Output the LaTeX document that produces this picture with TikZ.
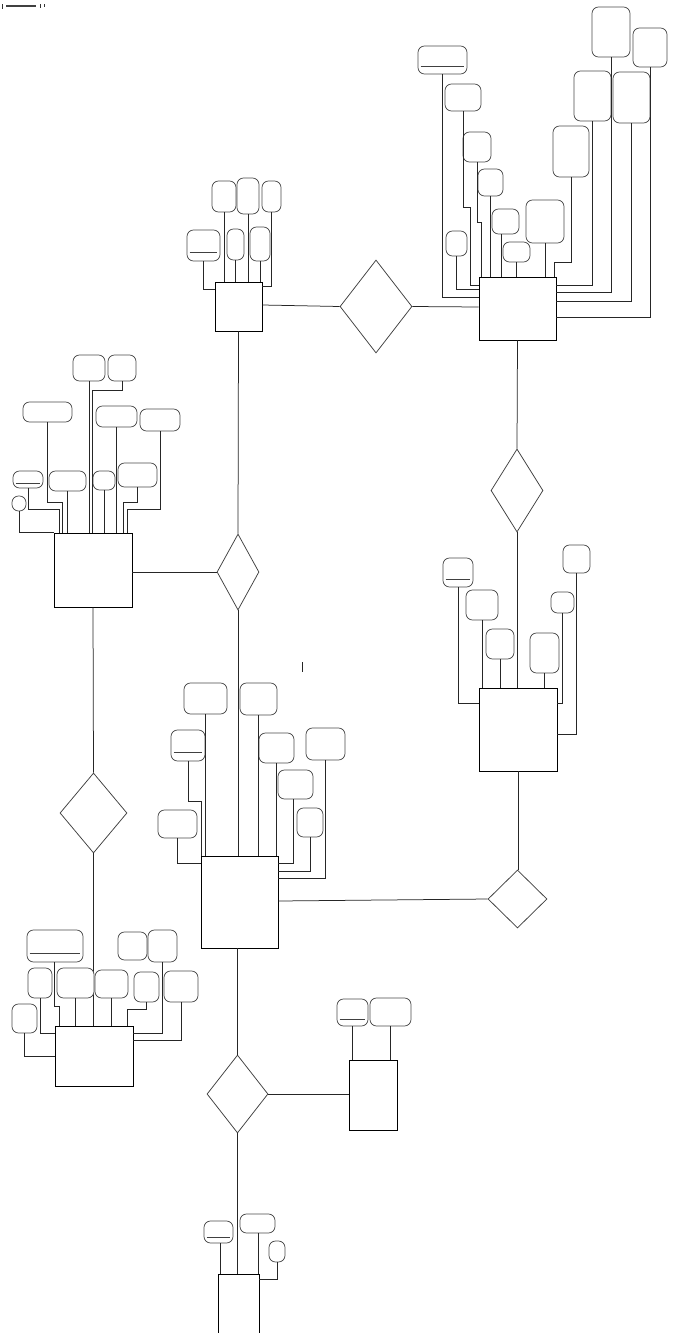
\documentclass[tikz,border=0pt]{standalone}
\usetikzlibrary{shapes.geometric,calc}
\tikzset{
  ln/.style={draw=black!85, line width=0.75pt},
  attr/.style={draw=black!70, rounded corners=6.5pt, line width=0.75pt, fill=white, inner sep=0pt},
  ent/.style={draw=black, line width=0.85pt, inner sep=0pt},
  rel/.style={diamond, draw=black!75, line width=0.75pt, inner sep=0pt},
  keyl/.style={draw=black!75, line width=0.75pt}
}
\newcommand{\attrnode}[5]{\node[attr, minimum width={(#4)-(#2)}, minimum height={(#5)-(#3)}] (#1) at ({((#2)+(#4))/2},{((#3)+(#5))/2}) {};}
\newcommand{\entnode}[5]{\node[ent, minimum width={(#4)-(#2)}, minimum height={(#5)-(#3)}] (#1) at ({((#2)+(#4))/2},{((#3)+(#5))/2}) {};}
\newcommand{\relnode}[5]{\node[rel, minimum width={(#4)-(#2)}, minimum height={(#5)-(#3)}] (#1) at ({((#2)+(#4))/2},{((#3)+(#5))/2}) {};}
\newcommand{\keyline}[1]{\draw[keyl] ($(#1.south west)!0.27!(#1.north west)+(3,0)$) -- ($(#1.south east)!0.27!(#1.north east)+(-3,0)$);}
\begin{document}
\begin{tikzpicture}[x=1pt,y=-1pt]
\useasboundingbox (0,0) rectangle (679,1333);
\fill[white] (0,0) rectangle (679,1333);

% tiny marks
\draw[line width=2.4pt, black!75] (6,6) -- (36,6);
\draw[line width=1pt, black!80] (2,4) -- (2,9) (40,4) -- (40,8) (44,4) -- (44,7);
\coordinate (m1) at (302,662);
\coordinate (m2) at (302,672);
\draw[ln] (m1) -- (m2);

% entities
\entnode{E1}{479}{277}{556}{340}
\entnode{E2}{215}{282}{262}{331}
\entnode{E3}{54}{533}{132}{607}
\entnode{E4}{201}{856}{278}{948}
\entnode{E5}{479}{688}{557}{771}
\entnode{E6}{55}{1026}{133}{1086}
\entnode{E7}{349}{1060}{397}{1130}
\entnode{E8}{218}{1274}{259}{1340}

% relationships
\relnode{D1}{340}{260}{412}{353}
\relnode{D2}{217}{534}{259}{610}
\relnode{D3}{60}{773}{127}{853}
\relnode{D4}{488}{870}{547}{928}
\relnode{D5}{207}{1055}{268}{1133}
\relnode{D6}{491}{449}{543}{532}

% relationship links
\draw[ln] (E2.east |- 0,305) -- (D1.west);
\draw[ln] (D1.east) -- (E1.west |- 0,307);
\draw[ln] (E2.south) -- (D2.north);
\draw[ln] (D2.west) -- (E3.east |- D2.west);
\draw[ln] (D2.south) -- (D2.south |- E4.north);
\draw[ln] (E3.south) -- (D3.north);
\draw[ln] (D3.south) -- (D3.south |- E6.north);
\draw[ln] (E1.south) -- (D6.north);
\draw[ln] (D6.south) -- (D6.south |- E5.north);
\draw[ln] (E5.south) -- (E5.south |- D4.north);
\draw[ln] (E4.east |- 0,901) -- (D4.west);
\draw[ln] (D5.north) -- (D5.north |- E4.south);
\draw[ln] (D5.east) -- (E7.west |- D5.east);
\draw[ln] (D5.south) -- (D5.south |- E8.north);

% ---- E1 attributes
\attrnode{A1}{418}{46}{467}{74} \keyline{A1}
\attrnode{A2}{445}{84}{481}{111}
\attrnode{A3}{463}{132}{491}{162}
\attrnode{A4}{478}{169}{503}{196}
\attrnode{A5}{446}{231}{467}{256}
\attrnode{A6}{492}{209}{519}{234}
\attrnode{A7}{503}{242}{530}{262}
\attrnode{A8}{526}{200}{564}{243}
\attrnode{A9}{553}{126}{589}{177}
\attrnode{A10}{574}{71}{611}{121}
\attrnode{A11}{592}{7}{630}{57}
\attrnode{A12}{613}{72}{650}{123}
\attrnode{A13}{633}{28}{667}{67}
\draw[ln] (A1.south) |- (E1.west |- 0,297);
\draw[ln] (A2.south) -- (463,207) -- (470,207) -- (470,285) -- (E1.west |- 0,285);
\draw[ln] (A3.south) -- (477,222) -- (481,222) -- (481,277);
\draw[ln] (A4.south) -- (A4.south |- E1.north);
\draw[ln] (A5.south) |- (E1.west |- 0,289);
\draw[ln] (501,0 |- A6.south) -- (501,0 |- E1.north);
\draw[ln] (A7.south) -- (A7.south |- E1.north);
\draw[ln] (A8.south) -- (A8.south |- E1.north);
\draw[ln] (A9.south) -- (571,262) -- (554,262) -- (554,277);
\draw[ln] (A10.south) |- (E1.east |- 0,285);
\draw[ln] (A11.south) |- (E1.east |- 0,292);
\draw[ln] (A12.south) |- (E1.east |- 0,301);
\draw[ln] (A13.south) |- (E1.east |- 0,317);

% ---- E2 attributes
\attrnode{B1}{187}{230}{220}{261} \keyline{B1}
\attrnode{B2}{212}{181}{236}{212}
\attrnode{B3}{237}{178}{259}{214}
\attrnode{B4}{262}{181}{281}{212}
\attrnode{B5}{227}{229}{244}{260}
\attrnode{B6}{250}{227}{270}{261}
\draw[ln] (B1.south) |- (E2.west |- 0,289);
\draw[ln] (B2.south) -- (B2.south |- E2.north);
\draw[ln] (B3.south) -- (B3.south |- E2.north);
\draw[ln] (B4.south) |- (E2.east |- 0,286);
\draw[ln] (B5.south) -- (B5.south |- E2.north);
\draw[ln] (B6.south) -- (B6.south |- E2.north);

% ---- E3 attributes
\attrnode{C1}{73}{355}{105}{381}
\attrnode{C2}{108}{355}{136}{381}
\attrnode{C3}{23}{402}{72}{422}
\attrnode{C4}{96}{406}{137}{427}
\attrnode{C5}{140}{409}{180}{431}
\attrnode{C6}{13}{471}{43}{488} \keyline{C6}
\attrnode{C7}{49}{471}{86}{491}
\attrnode{C8}{93}{471}{115}{490}
\attrnode{C9}{118}{463}{157}{487}
\attrnode{C10}{12}{496}{26}{511}
\draw[ln] (C1.south) -- (C1.south |- E3.north);
\draw[ln] (C2.south) -- (122,390) -- (92,390) -- (92,533);
\draw[ln] (C3.south) -- (47.5,502) -- (62,502) -- (62,533);
\draw[ln] (C4.south) -- (C4.south |- E3.north);
\draw[ln] (C5.south) -- (160,509) -- (127,509) -- (127,533);
\draw[ln] (C6.south) -- (28,509) -- (59,509) -- (59,533);
\draw[ln] (C7.south) -- (C7.south |- E3.north);
\draw[ln] (C8.south) -- (C8.south |- E3.north);
\draw[ln] (C9.south) -- (137.5,502) -- (123,502) -- (123,533);
\draw[ln] (C10.south) |- (E3.north west);

% ---- E4 attributes
\attrnode{F1}{184}{683}{227}{714}
\attrnode{F2}{240}{683}{277}{715}
\attrnode{F3}{171}{730}{205}{761} \keyline{F3}
\attrnode{F4}{259}{733}{294}{763}
\attrnode{F5}{306}{728}{345}{760}
\attrnode{F6}{278}{770}{313}{799}
\attrnode{F7}{297}{808}{323}{837}
\attrnode{F8}{158}{810}{197}{838}
\draw[ln] (F1.south) -- (F1.south |- E4.north);
\draw[ln] (F2.south) -- (F2.south |- E4.north);
\draw[ln] (F3.south) -- (188,801) -- (201,801) -- (201,856);
\draw[ln] (F4.south) -- (F4.south |- E4.north);
\draw[ln] (F5.south) |- (E4.east |- 0,878);
\draw[ln] (293,0 |- F6.south) |- (E4.east |- 0,863);
\draw[ln] (F7.south) |- (E4.east |- 0,871);
\draw[ln] (F8.south) |- (E4.west |- 0,863);

% ---- E5 attributes
\attrnode{G1}{443}{558}{473}{587} \keyline{G1}
\attrnode{G2}{466}{590}{498}{620}
\attrnode{G3}{486}{629}{514}{659}
\attrnode{G4}{530}{633}{559}{673}
\attrnode{G5}{551}{592}{574}{613}
\attrnode{G6}{563}{545}{590}{573}
\draw[ln] (G1.south) |- (E5.west |- 0,703);
\draw[ln] (G2.south) -- (G2.south |- E5.north);
\draw[ln] (G3.south) -- (G3.south |- E5.north);
\draw[ln] (G4.south) -- (G4.south |- E5.north);
\draw[ln] (G5.south) |- (E5.east |- 0,703);
\draw[ln] (G6.south) |- (E5.east |- 0,734);

% ---- E6 attributes
\attrnode{H1}{27}{930}{83}{962} \keyline{H1}
\attrnode{H2}{118}{932}{147}{960}
\attrnode{H3}{148}{930}{177}{962}
\attrnode{H4}{28}{968}{52}{998}
\attrnode{H5}{57}{968}{94}{998}
\attrnode{H6}{95}{970}{128}{998}
\attrnode{H7}{134}{972}{159}{1002}
\attrnode{H8}{164}{971}{198}{1002}
\attrnode{H9}{12}{1004}{37}{1033}
\draw[ln] (54,0 |- H1.south) -- (54,1006) -- (59,1006) -- (59,1026);
\draw[ln] (H3.south) |- (E6.east |- 0,1033);
\draw[ln] (H4.south) |- (E6.west |- 0,1033);
\draw[ln] (H5.south) -- (H5.south |- E6.north);
\draw[ln] (H6.south) -- (H6.south |- E6.north);
\draw[ln] (H7.south) -- (146.5,1009) -- (127,1009) -- (127,1026);
\draw[ln] (H8.south) |- (E6.east |- 0,1040);
\draw[ln] (H9.south) |- (E6.west |- 0,1056);

% ---- E7 attributes
\attrnode{I1}{337}{999}{368}{1026} \keyline{I1}
\attrnode{I2}{370}{998}{411}{1026}
\draw[ln] (I1.south) -- (I1.south |- E7.north);
\draw[ln] (I2.south) -- (I2.south |- E7.north);

% ---- E8 attributes
\attrnode{J1}{204}{1221}{233}{1243} \keyline{J1}
\attrnode{J2}{240}{1214}{275}{1233}
\attrnode{J3}{269}{1241}{285}{1262}
\draw[ln] (220,0 |- J1.south) -- (220,0 |- E8.north);
\draw[ln] (258,0 |- J2.south) -- (258,0 |- E8.north);
\draw[ln] (J3.south) |- (E8.east |- 0,1279);
\end{tikzpicture}
\end{document}
